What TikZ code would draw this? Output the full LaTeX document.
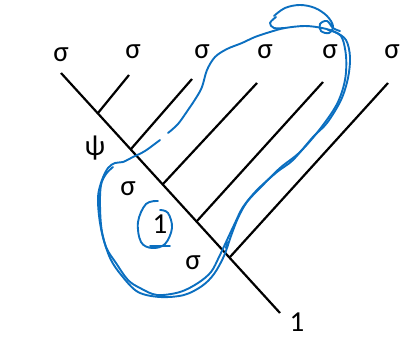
\documentclass[tikz,border=0pt]{standalone}
\usepackage{fontspec}
\setmainfont{Carlito}
\definecolor{penblue}{HTML}{0B6FC0}

\begin{document}
\begin{tikzpicture}[x=1pt, y=-1pt,
    lbl/.style={font=\fontsize{29}{31}\selectfont, inner sep=0pt},
    edge/.style={line width=2.2pt, black},
    ink/.style={line width=1.9pt, penblue, line cap=round, line join=round}
]
\useasboundingbox (0,0) rectangle (402,339);

% spine of the tree
\coordinate (top) at (61,73);
\coordinate (root) at (280,313);
\coordinate (j1) at (98,113);
\coordinate (j2) at (131,149);
\coordinate (j3) at (163,184);
\coordinate (j4) at (197,221);
\coordinate (j5) at (230,257);

% leaves
\coordinate (t1) at (129,75);
\coordinate (t2) at (192,79);
\coordinate (t3) at (257,83);
\coordinate (t4) at (323,82);
\coordinate (t5) at (388,83);

\node[lbl] (s0) at (61,55) {σ};
\node[lbl] (s1) at (133,52) {σ};
\node[lbl] (s2) at (202,52) {σ};
\node[lbl] (s3) at (265,52) {σ};
\node[lbl] (s4) at (330,52) {σ};
\node[lbl] (s5) at (392,52) {σ};
\node[lbl] (psi) at (95,148) {ψ};
\node[lbl] (sa) at (128,189) {σ};
\node[lbl] (one) at (160,224) {1};
\node[lbl] (sb) at (193,263) {σ};
\node[lbl] (out) at (297,322) {1};

\draw[edge] (top) -- (root);
\draw[edge] (j1) -- (t1);
\draw[edge] (j2) -- (t2);
\draw[edge] (j3) -- (t3);
\draw[edge] (j4) -- (t4);
\draw[edge] (j5) -- (t5);

% pen loop round the lower part
\draw[ink] plot[smooth, tension=0.55] coordinates {
  (168,133) (178,124) (188,110) (196,98) (202,87) (207,70) (215,57)
  (227,49) (242,43) (255,37) (270,32) (285,28) (305,26) (322,28)
  (335,32) (346,40) (350,57) (348,78) (341,100) (327,123) (313,137)
  (293,160) (277,172) (257,190) (243,207) (235,223) (227,240)
  (219,257) (211,272) (198,283) (180,292) (157,295) (140,288)
  (128,280) (116,263) (106,247) (100,223) (98,197) (102,180)
  (108,168) (115,163) (123,162) (133,157) (145,151) (160,140)};
\draw[ink] plot[smooth, tension=0.55] coordinates {
  (328,30) (341,36) (346,56) (345,80) (337,104) (320,129) (300,152)
  (280,168) (262,186) (247,202) (238,218) (231,236) (224,256)
  (214,274) (202,286) (184,295) (160,297) (138,292) (122,276)
  (110,258) (102,232) (100,205) (101,185) (106,174) (113,167)};
% curl at the top
\draw[ink] plot[smooth, tension=0.6] coordinates {
  (276,17) (270,23) (274,28) (284,28)};
\draw[ink] plot[smooth, tension=0.6] coordinates {
  (274,16) (285,8) (300,5) (315,8) (327,16) (333,26) (329,33)
  (321,31) (320,24) (327,21) (333,28) (340,31)};
% little spiral round the 1
\draw[ink] plot[smooth, tension=0.6] coordinates {
  (158,201) (146,204) (138,222) (141,242) (152,248) (165,244)
  (172,228) (168,213) (160,210)};
\draw[ink] (150,246) -- (170,246);
\draw[ink] (227,242) -- (226,248);
\end{tikzpicture}
\end{document}
